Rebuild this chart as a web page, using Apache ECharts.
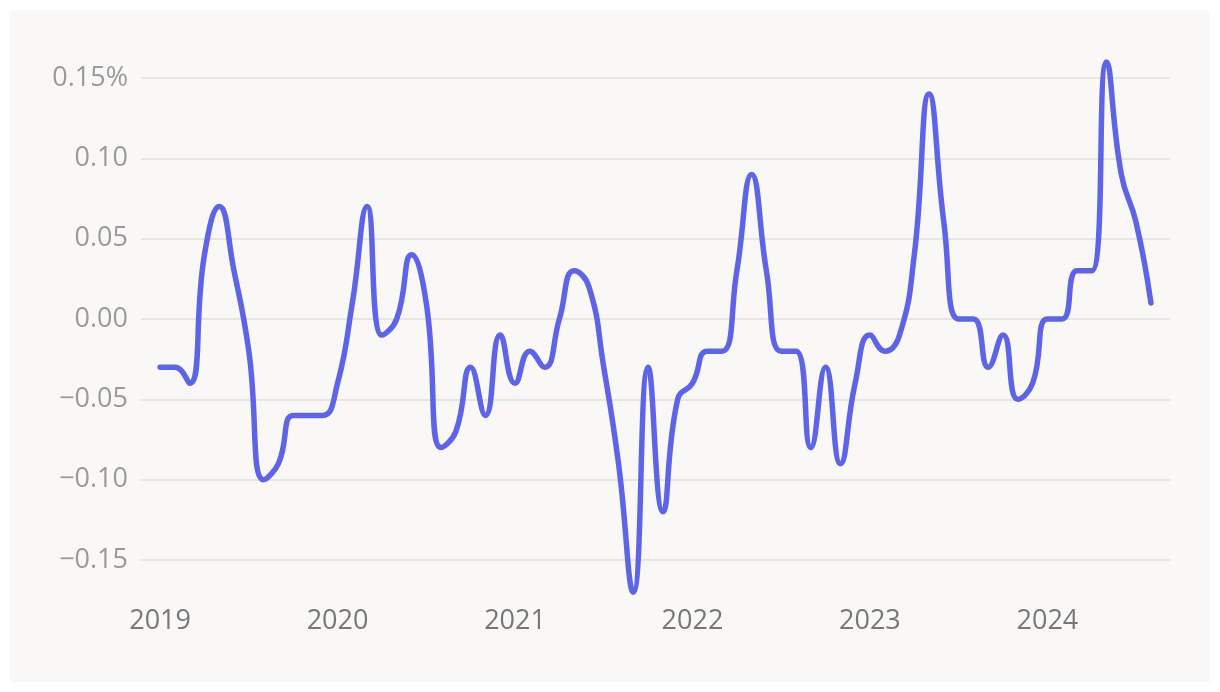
<!DOCTYPE html>
<html>
<head>
<meta charset="utf-8">
<script src="https://cdn.jsdelivr.net/npm/echarts@6/dist/echarts.min.js"></script>
<style>
html,body{margin:0;padding:0;background:#ffffff;}
#chart{width:1220px;height:692px;}
</style>
</head>
<body>
<div id="chart"></div>
<script>
// Tick labels
const yearLabels = ['2019', '2020', '2021', '2022', '2023', '2024'];
const yearTickIndex = [0, 12, 24, 36, 48, 60];
const yTicks = [-0.15, -0.10, -0.05, 0, 0.05, 0.10, 0.15];
// Monthly values, Jan 2019 .. Aug 2024 (percent)
const values2019 = [-0.03, -0.03, -0.04, 0.04, 0.07, 0.03, -0.02, -0.10, -0.09, -0.06, -0.06, -0.06];
const values2020 = [-0.04, 0.01, 0.07, -0.01, 0.00, 0.04, 0.01, -0.08, -0.07, -0.03, -0.06, -0.01];
const values2021 = [-0.04, -0.02, -0.03, 0.00, 0.03, 0.02, -0.03, -0.09, -0.17, -0.03, -0.12, -0.05];
const values2022 = [-0.04, -0.02, -0.02, 0.03, 0.09, 0.03, -0.02, -0.02, -0.08, -0.03, -0.09, -0.04];
const values2023 = [-0.01, -0.02, -0.01, 0.04, 0.14, 0.06, 0.00, 0.00, -0.03, -0.01, -0.05, -0.04];
const values2024 = [0.00, 0.00, 0.03, 0.03, 0.16, 0.09, 0.06, 0.01];

const allValues = [].concat(values2019, values2020, values2021, values2022, values2023, values2024);
const seriesData = allValues.map((v, i) => [i, v]);

const chart = echarts.init(document.getElementById('chart'));
const fontFamily = '"Open Sans", "Noto Sans", sans-serif';
chart.setOption({
  backgroundColor: 'transparent',
  animation: false,
  graphic: [{
    type: 'rect', z: -100, silent: true,
    shape: { x: 10, y: 10, width: 1200, height: 672 },
    style: { fill: '#f9f8f7' }
  }],
  grid: { left: 141, right: 50, top: 45.9, bottom: 93.4 },
  xAxis: {
    type: 'value',
    min: -1.29,
    max: 68.29,
    axisLine: { show: false },
    axisTick: { show: false, customValues: yearTickIndex },
    splitLine: { show: false },
    axisLabel: {
      customValues: yearTickIndex,
      formatter: v => yearLabels[Math.round(v / 12)],
      color: '#777777',
      fontSize: 27,
      fontFamily: fontFamily,
      margin: 9
    }
  },
  yAxis: {
    type: 'value',
    min: -0.174,
    max: 0.17,
    axisLine: { show: false },
    axisTick: { show: false, customValues: yTicks },
    splitLine: { show: true, lineStyle: { color: '#e2e0de', width: 1.5 } },
    axisLabel: {
      customValues: yTicks,
      formatter: v => {
        const r = Math.round(v * 100) / 100;
        let s = Math.abs(r).toFixed(2);
        if (r < 0) s = '\u2212' + s;
        if (Math.abs(r - 0.15) < 1e-9) s += '%';
        return s;
      },
      color: '#9a9a9a',
      fontSize: 27,
      fontFamily: fontFamily,
      margin: 13
    }
  },
  series: [{
    type: 'line',
    data: seriesData,
    smooth: 0.5,
    showSymbol: false,
    symbol: 'none',
    lineStyle: { color: '#5d65e6', width: 5.5, cap: 'round', join: 'round' },
    z: 3
  }]
});
</script>
</body>
</html>
